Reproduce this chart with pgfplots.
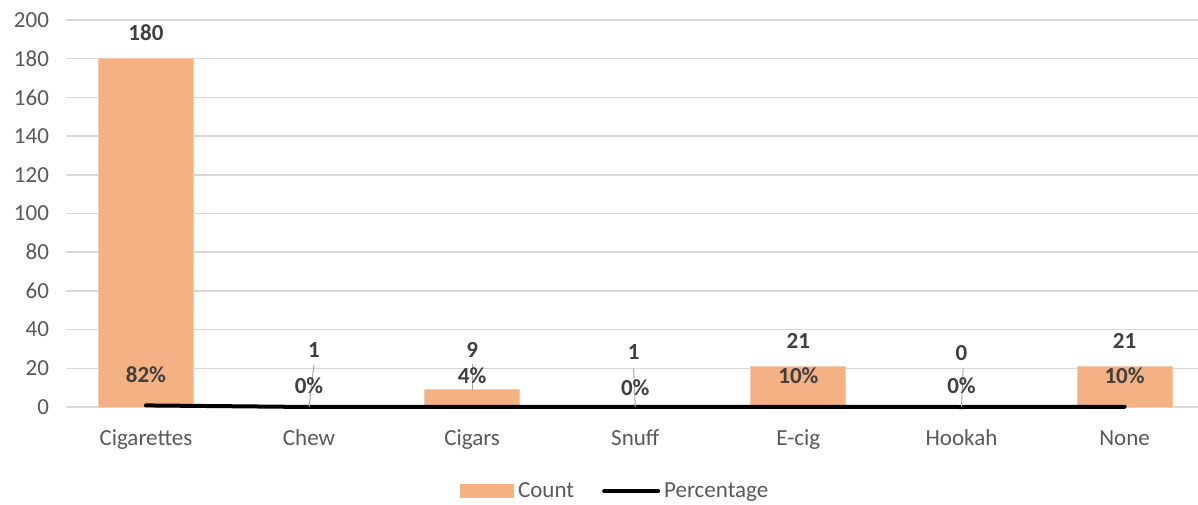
\documentclass[border=0pt]{standalone}
\usepackage{pgfplots}
\pgfplotsset{compat=1.18}
\usepackage{fontspec}
\setmainfont{Carlito}
\definecolor{barc}{HTML}{F4B183}
\definecolor{baredge}{HTML}{F8CBAD}
\definecolor{gridc}{HTML}{D9D9D9}
\definecolor{tickc}{HTML}{595959}
\definecolor{labc}{HTML}{404040}
\definecolor{leadc}{HTML}{A6A6A6}
\begin{document}
\begin{tikzpicture}
\path[use as bounding box] (0,0) rectangle (599pt,252pt);
\begin{axis}[
  at={(33pt,48.5pt)}, anchor=south west,
  scale only axis, width=566pt, height=193.5pt,
  xmin=-0.49, xmax=6.45, ymin=0, ymax=200,
  ytick={0,20,...,200},
  xtick={0,1,2,3,4,5,6},
  xticklabels={Cigarettes,Chew,Cigars,Snuff,E-cig,Hookah,None},
  axis line style={draw=none},
  major tick length=0pt,
  ymajorgrids,
  grid style={draw=gridc, line width=0.75pt},
  tick label style={font=\fontsize{11.5}{13}\selectfont, text=tickc},
  xticklabel style={anchor=base, yshift=-19pt},
  yticklabel style={xshift=-5pt},
  /pgf/number format/assume math mode=true,
  clip=false,
  legend columns=2,
  legend style={at={(0.486,-0.218)}, anchor=center, draw=none, fill=none,
    font=\fontsize{11.5}{13}\selectfont, text=tickc,
    /tikz/every even column/.append style={column sep=12pt}},
]
\addplot[ybar, bar width=47.5pt, fill=barc, draw=baredge, line width=0.5pt,
  legend image code/.code={\fill[barc] (0pt,-3.25pt) rectangle (26.5pt,3.25pt);}]
  coordinates {(0,180) (1,1) (2,9) (3,1) (4,21) (5,0) (6,21)};
\addlegendentry{Count}
\addplot[black, line width=2pt, line cap=round, mark=none,
  legend image code/.code={\draw[black, line width=2pt, line cap=round] (0pt,0pt) -- (27pt,0pt);}]
  coordinates {(0,0.82) (1,0.0045) (2,0.04) (3,0.0045) (4,0.10) (5,0) (6,0.10)};
\addlegendentry{Percentage}
% leader lines
\draw[leadc, line width=0.5pt] (axis cs:1.03,21.7) -- (axis cs:1,0.0045);
\draw[leadc, line width=0.5pt] (axis cs:2,22) -- (axis cs:2,9);
\draw[leadc, line width=0.5pt] (axis cs:2.99,20) -- (axis cs:3,0.0045);
\draw[leadc, line width=0.5pt] (axis cs:5.01,20) -- (axis cs:5,0);
% count labels
\begin{scope}[every node/.style={font=\fontsize{11.5}{13}\selectfont\bfseries, text=labc}]
\node at (axis cs:0,193.3) {180};
\node at (axis cs:1.03,29.5) {1};
\node at (axis cs:2,29.5) {9};
\node at (axis cs:2.99,28.4) {1};
\node at (axis cs:4,34.1) {21};
\node at (axis cs:5,27.9) {0};
\node at (axis cs:6,34.1) {21};
% percentage labels
\node at (axis cs:0,16.5) {82\%};
\node at (axis cs:1,10.9) {0\%};
\node at (axis cs:2,16) {4\%};
\node at (axis cs:3,9.8) {0\%};
\node at (axis cs:4,16) {10\%};
\node at (axis cs:5,10.9) {0\%};
\node at (axis cs:6,16) {10\%};
\end{scope}
\end{axis}
\end{tikzpicture}
\end{document}
